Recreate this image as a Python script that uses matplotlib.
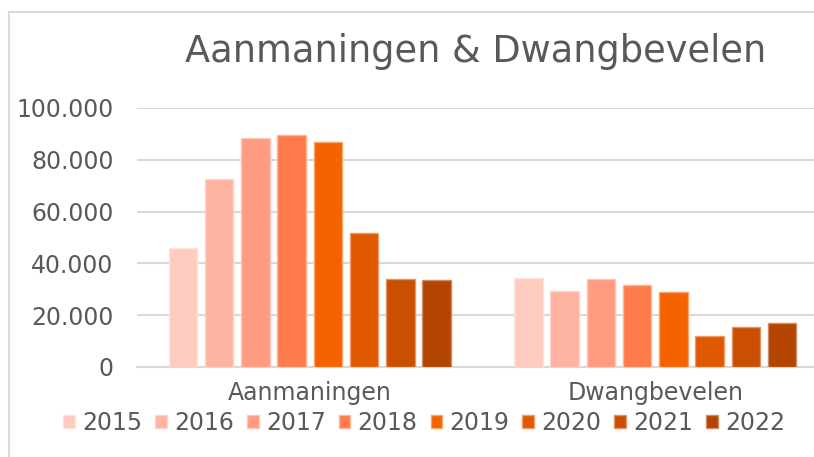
import numpy as np
import matplotlib.pyplot as plt
from matplotlib.patches import Rectangle

# data
categories = ["Aanmaningen", "Dwangbevelen"]
years = ["2015", "2016", "2017", "2018", "2019", "2020", "2021", "2022"]
aanmaningen = [46000, 72500, 88600, 89600, 87000, 51700, 34100, 33500]
dwangbevelen = [34500, 29500, 34100, 31700, 28900, 12100, 15300, 16900]
yticks = [0, 20000, 40000, 60000, 80000, 100000]
ytick_labels = ["0", "20.000", "40.000", "60.000", "80.000", "100.000"]

colors = ["#FFCBBF", "#FFB3A2", "#FF9B80", "#FF7B4B", "#F56300",
          "#E05800", "#CB4F00", "#B34500"]
edges = ["#FFE3DC", "#FFD5CB", "#FFC6B6", "#FFB596", "#FBA46A",
         "#EE9C6A", "#E29466", "#D08A66"]
gray = "#595959"

fig = plt.figure(figsize=(8.14, 4.57), dpi=100)
ax = fig.add_axes([137 / 814, 1 - 367 / 457, 691 / 814, 259 / 457])

# chart frame (excel style)
fig.patches.append(Rectangle((9 / 814, -0.1), 1.0, 1 - 12 / 457 + 0.1,
                             transform=fig.transFigure, fill=False,
                             edgecolor="#D9D9D9", linewidth=1.5))

x = np.arange(len(categories))
pitch = 0.105
width = 0.0825
vals = np.array([aanmaningen, dwangbevelen]).T
for i, yr in enumerate(years):
    ax.bar(x + (i - 3.5) * pitch, vals[i], width, color=colors[i],
           edgecolor=edges[i], linewidth=1.0, label=yr, zorder=3)

ax.set_xlim(-0.5, 1.5)
ax.set_ylim(0, 100000)
ax.set_yticks(yticks)
ax.set_yticklabels(ytick_labels)
ax.set_xticks(x)
ax.set_xticklabels(categories)
ax.tick_params(axis="both", length=0, labelsize=17, colors=gray)
ax.tick_params(axis="y", pad=17)
ax.tick_params(axis="x", pad=10)
ax.grid(axis="y", color="#D9D9D9", linewidth=1.5, zorder=0)
for s in ["top", "right", "left"]:
    ax.spines[s].set_visible(False)
ax.spines["bottom"].set_color("#D9D9D9")
ax.spines["bottom"].set_linewidth(1.5)

fig.text(476 / 814, 1 - 52 / 457, "Aanmaningen & Dwangbevelen",
         ha="center", va="center", fontsize=26.5, color=gray)

leg = fig.legend(loc="center", bbox_to_anchor=(424 / 814, 1 - 423 / 457),
                 ncol=8, frameon=False, fontsize=17, handlelength=0.5,
                 handleheight=0.5, handletextpad=0.3, columnspacing=0.55,
                 labelcolor=gray)

fig.savefig("out.png", dpi=100)
